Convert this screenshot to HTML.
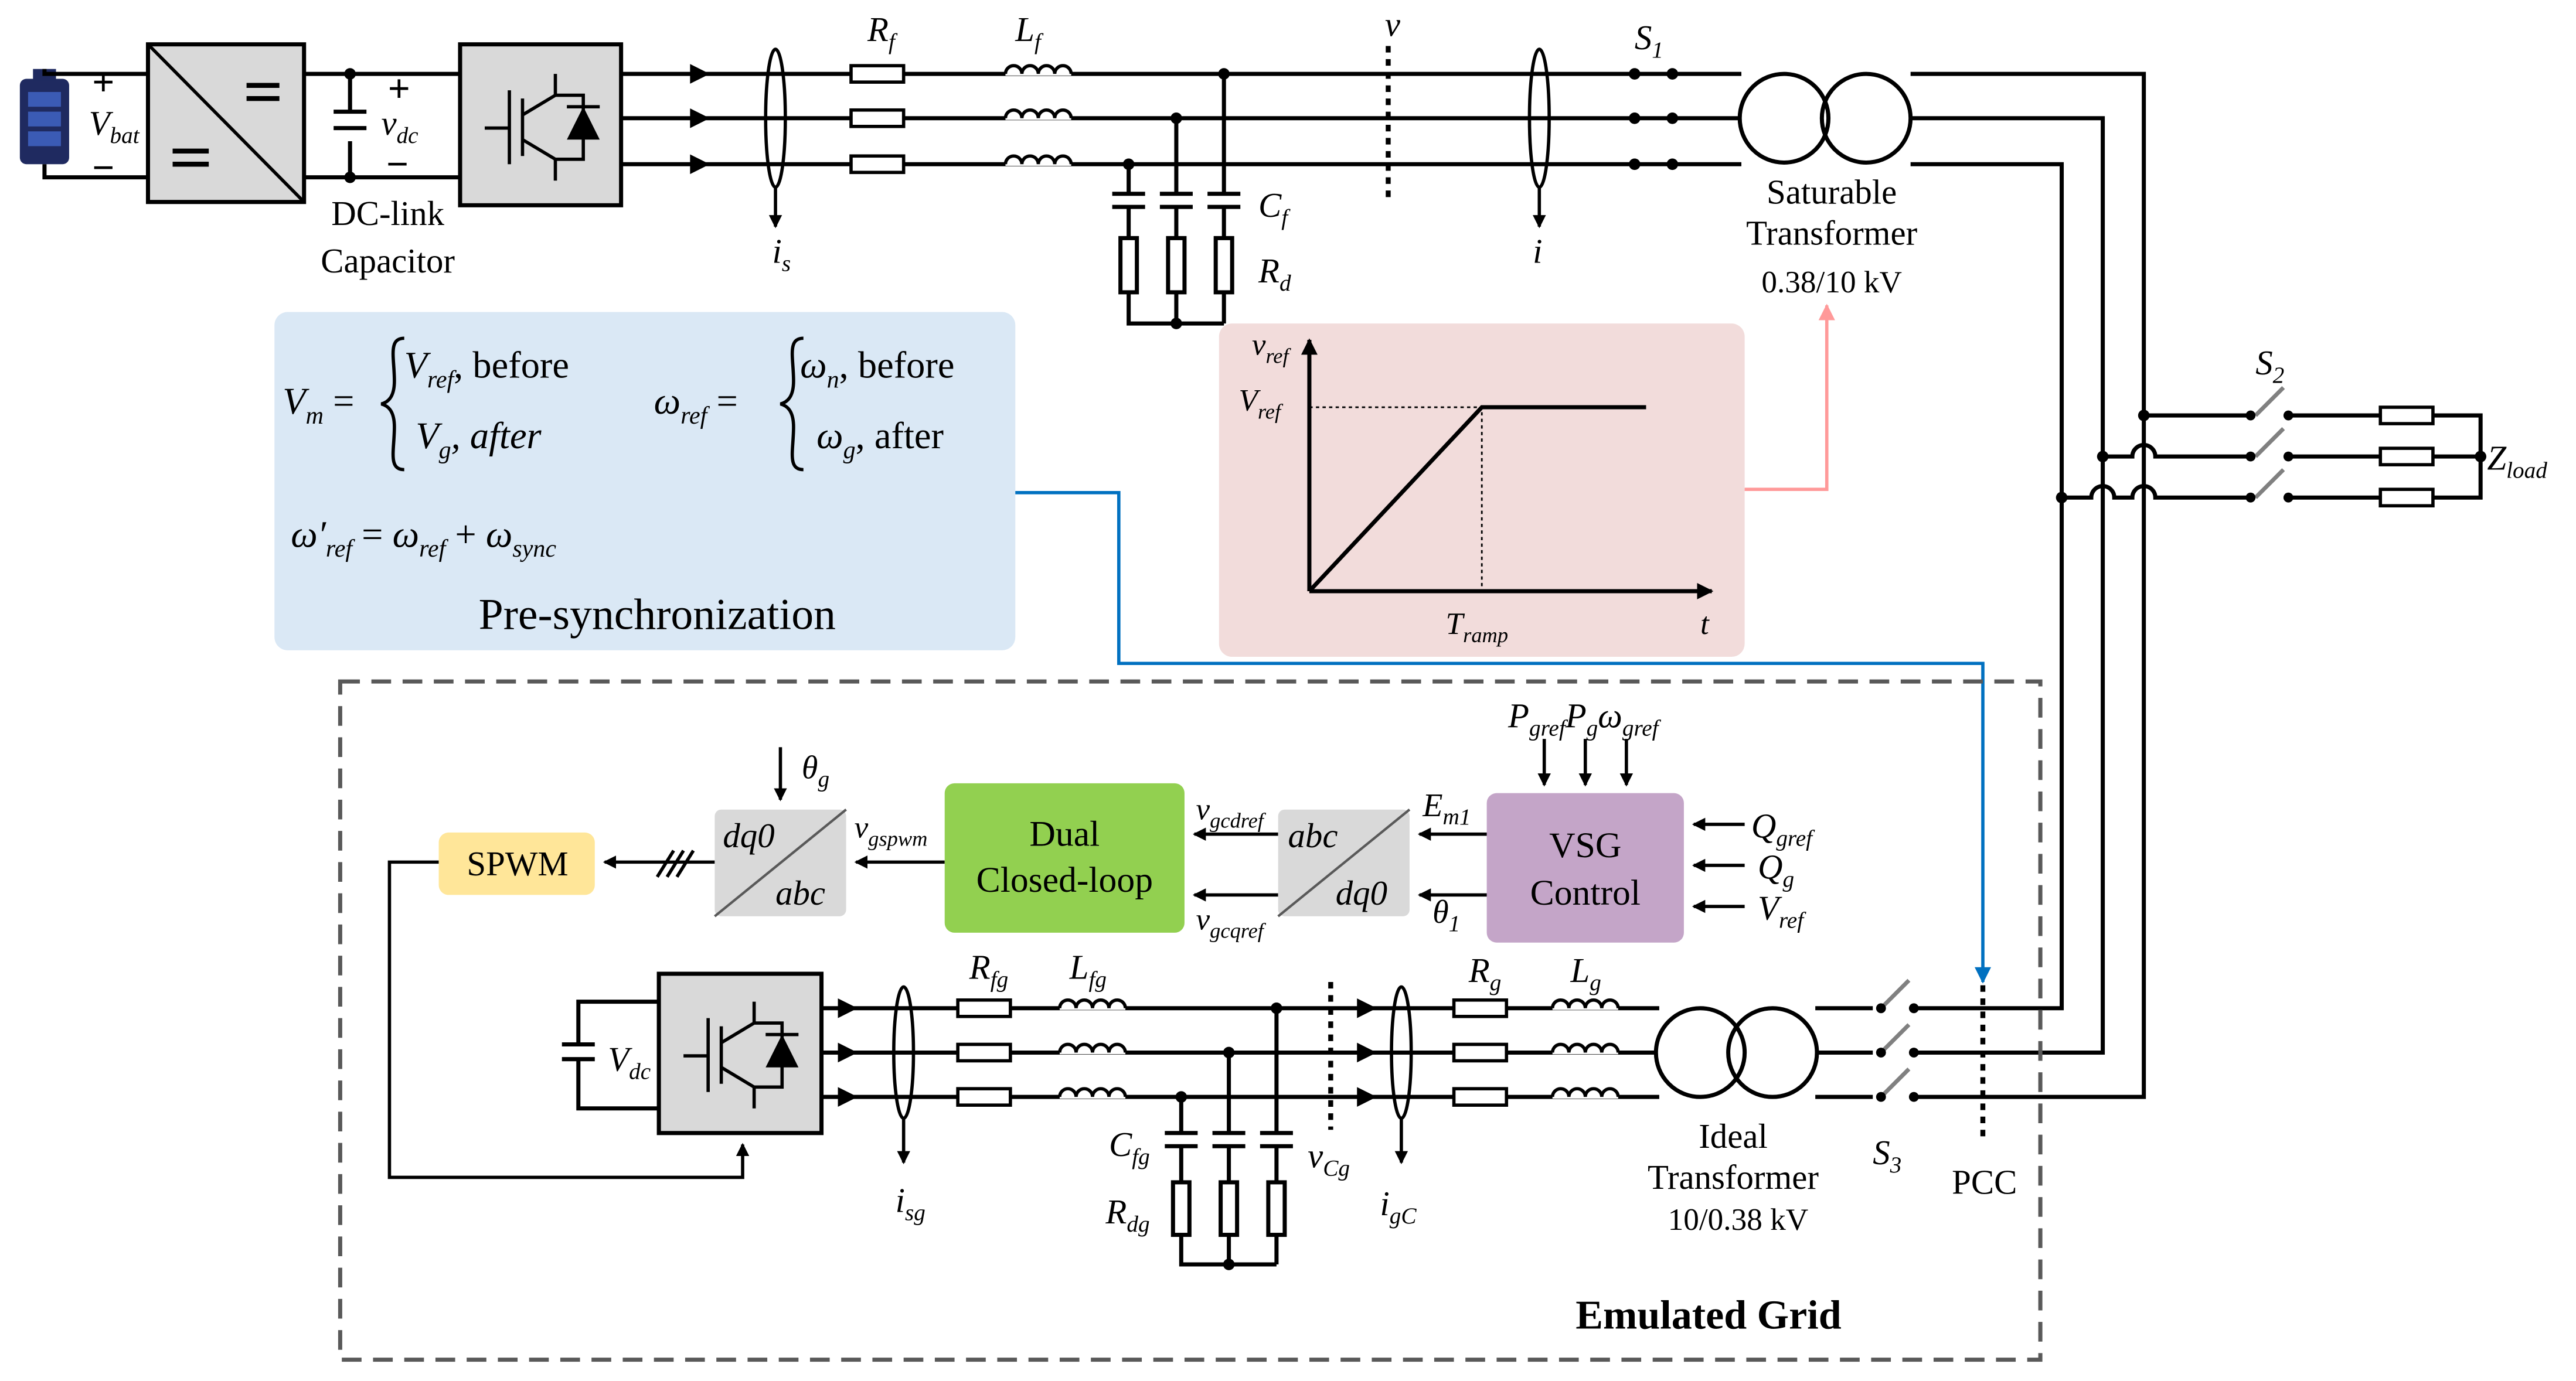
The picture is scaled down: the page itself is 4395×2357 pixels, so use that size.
<!DOCTYPE html>
<html><head><meta charset="utf-8"><style>
html,body{margin:0;padding:0;background:#fff;}
svg{display:block;}
text{font-family:"Liberation Serif","Times New Roman","DejaVu Serif",serif;fill:#000;}
.it{font-style:italic;}
</style></head><body>
<svg width="4395" height="2357" viewBox="0 0 1568 841" xmlns="http://www.w3.org/2000/svg">
<defs>
<marker id="ar" markerWidth="8" markerHeight="8" refX="7" refY="4" orient="auto" markerUnits="userSpaceOnUse"><path d="M0,0 L8,4 L0,8 Z" fill="#000"/></marker>
<marker id="arb" markerWidth="10" markerHeight="10" refX="9" refY="5" orient="auto" markerUnits="userSpaceOnUse"><path d="M0,0 L10,5 L0,10 Z" fill="#0070c0"/></marker>
<marker id="arp" markerWidth="10" markerHeight="10" refX="9" refY="5" orient="auto" markerUnits="userSpaceOnUse"><path d="M0,0 L10,5 L0,10 Z" fill="#ff9999"/></marker>
<marker id="arg" markerWidth="10" markerHeight="10" refX="9" refY="5" orient="auto" markerUnits="userSpaceOnUse"><path d="M0,0 L10,5 L0,10 Z" fill="#000"/></marker>
<g id="coil"><path d="M0,0 a5,5 0 0 1 10,0 a5,5 0 0 1 10,0 a5,5 0 0 1 10,0 a5,5 0 0 1 10,0" fill="none" stroke="#000" stroke-width="2"/></g>
<g id="res"><rect x="0" y="-5" width="32" height="10" fill="#fff" stroke="#000" stroke-width="2"/></g>
</defs>

<!-- battery -->
<rect x="12" y="48" width="30" height="52" rx="4" fill="#1f2a60"/>
<rect x="20" y="42" width="14" height="7" fill="#1f2a60"/>
<rect x="17" y="56" width="20" height="9" fill="#3b5bb5"/><rect x="17" y="68" width="20" height="9" fill="#3b5bb5"/><rect x="17" y="80" width="20" height="9" fill="#3b5bb5"/>
<g stroke="#000" stroke-width="2.5" fill="none">
<path d="M27,42 V45 H90"/><path d="M27,100 V108 H90"/>
<path d="M185,45 H280 M185,108 H280"/>
<path d="M213,45 V68 M213,86 V108 M203,68 H223 M203,78 H223"/>
</g>
<circle cx="213" cy="45" r="3.5"/><circle cx="213" cy="108" r="3.5"/>
<text x="56" y="58" font-size="24" font-weight="bold">+</text>
<text x="54" y="82" font-size="21" class="it">V<tspan font-size="14" dy="5">bat</tspan></text>
<text x="56" y="110" font-size="24" font-weight="bold">−</text>
<rect x="90" y="27" width="95" height="96" fill="#d9d9d9" stroke="#000" stroke-width="2.5"/>
<path d="M90,27 L185,123" stroke="#000" stroke-width="2"/>
<path d="M150,52 H170 M150,60 H170 M105,92 H127 M105,100 H127" stroke="#000" stroke-width="3"/>
<text x="236" y="62" font-size="24" font-weight="bold">+</text>
<text x="232" y="82" font-size="21" class="it">v<tspan font-size="14" dy="5">dc</tspan></text>
<text x="235" y="108" font-size="24" font-weight="bold">−</text>
<text x="236" y="137" font-size="21" text-anchor="middle">DC-link</text>
<text x="236" y="166" font-size="21" text-anchor="middle">Capacitor</text>
<!-- inverter top -->
<rect x="280" y="27" width="98" height="98" fill="#d9d9d9" stroke="#000" stroke-width="2.5"/>
<g stroke="#000" stroke-width="2" fill="none"><path d="M310,55 V100 M318,60 V95 M318,70 L338,58 V45 M318,85 L338,97 V110 M295,78 H310 M338,58 H355 V97 H338"/></g>
<path d="M345,85 L365,85 L355,65 Z" fill="#000"/><path d="M345,65 H365" stroke="#000" stroke-width="2"/>

<!-- top 3 phase lines -->
<g stroke="#000" stroke-width="2.5" fill="none">
<path d="M378,45 H1060 M378,72 H1060 M378,100 H1060"/>
<path d="M1163,45 H1305 V668 H1105 M1163,72 H1280 V641 H1105 M1163,100 H1255 V614 H1105"/>
</g>
<g fill="#000"><path d="M420,39 L432,45 L420,51Z M420,66 L432,72 L420,78Z M420,94 L432,100 L420,106Z"/></g>
<ellipse cx="472" cy="72" rx="6" ry="42" fill="none" stroke="#000" stroke-width="2"/>
<path d="M472,114 V138" stroke="#000" stroke-width="2" marker-end="url(#ar)"/>
<text x="470" y="160" font-size="21" class="it">i<tspan font-size="14" dy="5">s</tspan></text>
<use href="#res" x="518" y="45"/><use href="#res" x="518" y="72"/><use href="#res" x="518" y="100"/>
<rect x="612" y="38" width="40" height="8" fill="#fff"/><rect x="612" y="65" width="40" height="8" fill="#fff"/><rect x="612" y="93" width="40" height="8" fill="#fff"/>
<use href="#coil" x="612" y="45"/><use href="#coil" x="612" y="72"/><use href="#coil" x="612" y="100"/>
<text x="528" y="25" font-size="21" class="it">R<tspan font-size="14" dy="5">f</tspan></text>
<text x="618" y="25" font-size="21" class="it">L<tspan font-size="14" dy="5">f</tspan></text>
<!-- filter caps -->
<g stroke="#000" stroke-width="2.5" fill="none">
<path d="M687,100 V118 M677,118 H697 M677,126 H697 M687,126 V145 M687,178 V197 H745 M716,72 V118 M706,118 H726 M706,126 H726 M716,126 V145 M716,178 V197 M745,45 V118 M735,118 H755 M735,126 H755 M745,126 V145 M745,178 V197"/>
<rect x="682" y="145" width="10" height="33" fill="#fff"/><rect x="711" y="145" width="10" height="33" fill="#fff"/><rect x="740" y="145" width="10" height="33" fill="#fff"/>
</g>
<circle cx="687" cy="100" r="3.5"/><circle cx="716" cy="72" r="3.5"/><circle cx="745" cy="45" r="3.5"/><circle cx="716" cy="197" r="3.5"/>
<text x="766" y="132" font-size="21" class="it">C<tspan font-size="14" dy="5">f</tspan></text>
<text x="766" y="172" font-size="21" class="it">R<tspan font-size="14" dy="5">d</tspan></text>
<path d="M845,28 V120" stroke="#000" stroke-width="3" stroke-dasharray="4,4"/>
<text x="843" y="22" font-size="21" class="it">v</text>
<ellipse cx="937" cy="72" rx="6" ry="42" fill="none" stroke="#000" stroke-width="2"/>
<path d="M937,114 V138" stroke="#000" stroke-width="2" marker-end="url(#ar)"/>
<text x="933" y="160" font-size="21" class="it">i</text>
<!-- S1 -->
<rect x="995" y="38" width="23" height="70" fill="#fff"/>
<g fill="#000"><circle cx="995" cy="45" r="3.5"/><circle cx="1018" cy="45" r="3.5"/><circle cx="995" cy="72" r="3.5"/><circle cx="1018" cy="72" r="3.5"/><circle cx="995" cy="100" r="3.5"/><circle cx="1018" cy="100" r="3.5"/></g>
<path d="M995,45 H1018 M995,72 H1018 M995,100 H1018" stroke="#000" stroke-width="2.5"/>
<text x="995" y="30" font-size="21" class="it">S<tspan font-size="14" dy="5">1</tspan></text>
<circle cx="1086" cy="72" r="27" fill="#fff" stroke="#000" stroke-width="2.5"/>
<circle cx="1136" cy="72" r="27" fill="none" stroke="#000" stroke-width="2.5"/>
<text x="1115" y="124" font-size="21" text-anchor="middle">Saturable</text>
<text x="1115" y="149" font-size="21" text-anchor="middle">Transformer</text>
<text x="1115" y="178" font-size="19" text-anchor="middle">0.38/10 kV</text>

<!-- load branch -->
<g stroke="#000" stroke-width="2.5" fill="none">
<path d="M1305,253 H1370 M1393,253 H1510 V303 H1480"/>
<path d="M1280,278 H1298 a7,7 0 0 1 14,0 H1370 M1393,278 H1510"/>
<path d="M1255,303 H1273 a7,7 0 0 1 14,0 H1298 a7,7 0 0 1 14,0 H1370 M1393,303 H1480"/>
</g>
<g stroke="#808080" stroke-width="2.5"><path d="M1373,253 L1390,236 M1373,278 L1390,261 M1373,303 L1390,286"/></g>
<g fill="#000"><circle cx="1305" cy="253" r="3.5"/><circle cx="1280" cy="278" r="3.5"/><circle cx="1255" cy="303" r="3.5"/><circle cx="1370" cy="253" r="3"/><circle cx="1393" cy="253" r="3"/><circle cx="1370" cy="278" r="3"/><circle cx="1393" cy="278" r="3"/><circle cx="1370" cy="303" r="3"/><circle cx="1393" cy="303" r="3"/><circle cx="1510" cy="278" r="3.5"/></g>
<use href="#res" x="1449" y="253"/><use href="#res" x="1449" y="278"/><use href="#res" x="1449" y="303"/>
<text x="1373" y="228" font-size="21" class="it">S<tspan font-size="14" dy="5">2</tspan></text>
<text x="1514" y="286" font-size="21" class="it">Z<tspan font-size="14" dy="5">load</tspan></text>

<!-- blue box -->
<rect x="167" y="190" width="451" height="206" rx="8" fill="#dae8f5"/>
<text x="172" y="252" font-size="23" class="it">V<tspan font-size="15" dy="6">m</tspan><tspan dy="-6" font-style="normal"> =</tspan></text>
<path d="M246,206 C236,206 240,218 240,232 C240,242 236,245 232,246 C236,247 240,250 240,260 C240,274 236,286 246,286" fill="none" stroke="#000" stroke-width="2"/>
<text x="246" y="230" font-size="23" class="it">V<tspan font-size="15" dy="6">ref</tspan><tspan dy="-6" font-style="normal">, before</tspan></text>
<text x="253" y="273" font-size="23" class="it">V<tspan font-size="15" dy="6">g</tspan><tspan dy="-6">, after</tspan></text>
<text x="398" y="252" font-size="23" class="it">ω<tspan font-size="15" dy="6">ref</tspan><tspan dy="-6" font-style="normal"> =</tspan></text>
<path d="M489,206 C479,206 483,218 483,232 C483,242 479,245 475,246 C479,247 483,250 483,260 C483,274 479,286 489,286" fill="none" stroke="#000" stroke-width="2"/>
<text x="487" y="230" font-size="23" class="it">ω<tspan font-size="15" dy="6">n</tspan><tspan dy="-6" font-style="normal">, before</tspan></text>
<text x="497" y="273" font-size="23" class="it">ω<tspan font-size="15" dy="6">g</tspan><tspan dy="-6" font-style="normal">, after</tspan></text>
<text x="177" y="333" font-size="23" class="it">ω′<tspan font-size="15" dy="6">ref</tspan><tspan dy="-6" font-style="normal"> = </tspan>ω<tspan font-size="15" dy="6">ref</tspan><tspan dy="-6" font-style="normal"> + </tspan>ω<tspan font-size="15" dy="6">sync</tspan></text>
<text x="400" y="383" font-size="27" text-anchor="middle">Pre-synchronization</text>
<path d="M618,300 H681 V404 H1207 V598" fill="none" stroke="#0070c0" stroke-width="2" marker-end="url(#arb)"/>

<!-- pink box -->
<rect x="742" y="197" width="320" height="203" rx="8" fill="#f2dcdb"/>
<path d="M797,360 V207" stroke="#000" stroke-width="2.5" marker-end="url(#arg)"/>
<path d="M797,360 H1042" stroke="#000" stroke-width="2.5" marker-end="url(#arg)"/>
<path d="M797,360 L902,248 H1002" stroke="#000" stroke-width="2.5" fill="none"/>
<path d="M797,248 H902 V360" stroke="#000" stroke-width="1" stroke-dasharray="2,2" fill="none"/>
<text x="762" y="216" font-size="19" class="it">v<tspan font-size="13" dy="5">ref</tspan></text>
<text x="754" y="250" font-size="19" class="it">V<tspan font-size="13" dy="5">ref</tspan></text>
<text x="880" y="386" font-size="19" class="it">T<tspan font-size="13" dy="5">ramp</tspan></text>
<text x="1035" y="386" font-size="19" class="it">t</text>
<path d="M1062,298 H1112 V186" fill="none" stroke="#ff9999" stroke-width="2" marker-end="url(#arp)"/>

<!-- emulated grid -->
<rect x="207" y="415" width="1035" height="413" fill="none" stroke="#595959" stroke-width="2.5" stroke-dasharray="12,7"/>
<text x="1040" y="809" font-size="25" font-weight="bold" text-anchor="middle">Emulated Grid</text>

<rect x="905" y="483" width="120" height="91" rx="6" fill="#c4a5c8"/>
<text x="965" y="522" font-size="22" text-anchor="middle">VSG</text>
<text x="965" y="551" font-size="22" text-anchor="middle">Control</text>
<g stroke="#000" stroke-width="2" fill="none">
<path d="M940,450 V478" marker-end="url(#ar)"/><path d="M965,450 V478" marker-end="url(#ar)"/><path d="M990,450 V478" marker-end="url(#ar)"/>
<path d="M1062,502 H1031" marker-end="url(#ar)"/><path d="M1062,527 H1031" marker-end="url(#ar)"/><path d="M1062,552 H1031" marker-end="url(#ar)"/>
<path d="M905,508 H864" marker-end="url(#ar)"/><path d="M905,545 H864" marker-end="url(#ar)"/>
<path d="M778,508 H727" marker-end="url(#ar)"/><path d="M778,545 H727" marker-end="url(#ar)"/>
<path d="M575,525 H521" marker-end="url(#ar)"/>
<path d="M435,525 H368" marker-end="url(#ar)"/>
<path d="M475,455 V487" marker-end="url(#ar)"/>
<path d="M267,525 H237 V717 H452 V697" marker-end="url(#ar)"/>
</g>
<path d="M400,534 L410,518 M406,534 L416,518 M412,534 L422,518" stroke="#000" stroke-width="2"/>
<text x="918" y="443" font-size="21" class="it">P<tspan font-size="14" dy="5">gref</tspan><tspan dy="-5">P</tspan><tspan font-size="14" dy="5">g</tspan><tspan dy="-5">ω</tspan><tspan font-size="14" dy="5">gref</tspan></text>
<text x="1066" y="510" font-size="21" class="it">Q<tspan font-size="14" dy="5">gref</tspan></text>
<text x="1070" y="535" font-size="21" class="it">Q<tspan font-size="14" dy="5">g</tspan></text>
<text x="1070" y="560" font-size="21" class="it">V<tspan font-size="14" dy="5">ref</tspan></text>
<text x="866" y="497" font-size="20" class="it">E<tspan font-size="14" dy="5">m1</tspan></text>
<text x="872" y="562" font-size="20" class="it">θ<tspan font-size="14" dy="5">1</tspan></text>
<rect x="778" y="493" width="80" height="65" rx="4" fill="#d9d9d9"/>
<path d="M778,558 L858,493" stroke="#595959" stroke-width="1.5"/>
<text x="784" y="516" font-size="21" class="it">abc</text>
<text x="813" y="551" font-size="21" class="it">dq0</text>
<text x="728" y="499" font-size="19" class="it">v<tspan font-size="13" dy="5">gcdref</tspan></text>
<text x="728" y="566" font-size="19" class="it">v<tspan font-size="13" dy="5">gcqref</tspan></text>
<rect x="575" y="477" width="146" height="91" rx="6" fill="#92d050"/>
<text x="648" y="515" font-size="22" text-anchor="middle">Dual</text>
<text x="648" y="543" font-size="22" text-anchor="middle">Closed-loop</text>
<rect x="435" y="493" width="80" height="65" rx="4" fill="#d9d9d9"/>
<path d="M435,558 L515,493" stroke="#595959" stroke-width="1.5"/>
<text x="440" y="516" font-size="21" class="it">dq0</text>
<text x="472" y="551" font-size="21" class="it">abc</text>
<text x="488" y="474" font-size="20" class="it">θ<tspan font-size="14" dy="5">g</tspan></text>
<text x="520" y="510" font-size="19" class="it">v<tspan font-size="13" dy="5">gspwm</tspan></text>
<rect x="267" y="507" width="95" height="38" rx="6" fill="#ffe699"/>
<text x="315" y="533" font-size="21" text-anchor="middle">SPWM</text>

<!-- bottom inverter -->
<rect x="401" y="593" width="99" height="97" fill="#d9d9d9" stroke="#000" stroke-width="2.5"/>
<g stroke="#000" stroke-width="2" fill="none"><path d="M431,620 V665 M439,625 V660 M439,635 L459,623 V610 M439,650 L459,662 V675 M416,643 H431 M459,623 H476 V662 H459"/></g>
<path d="M466,650 L486,650 L476,630 Z" fill="#000"/><path d="M466,630 H486" stroke="#000" stroke-width="2"/>
<g stroke="#000" stroke-width="2.5" fill="none"><path d="M401,610 H352 V636 M342,636 H362 M342,645 H362 M352,645 V675 H401"/></g>
<text x="370" y="652" font-size="21" class="it">V<tspan font-size="14" dy="5">dc</tspan></text>

<g stroke="#000" stroke-width="2.5" fill="none"><path d="M500,614 H1010 M500,641 H1010 M500,668 H1010"/></g>
<g fill="#000"><path d="M510,608 L522,614 L510,620Z M510,635 L522,641 L510,647Z M510,662 L522,668 L510,674Z"/></g>
<ellipse cx="550" cy="641" rx="6" ry="40" fill="none" stroke="#000" stroke-width="2"/>
<path d="M550,681 V708" stroke="#000" stroke-width="2" marker-end="url(#ar)"/>
<text x="545" y="738" font-size="21" class="it">i<tspan font-size="14" dy="5">sg</tspan></text>
<use href="#res" x="583" y="614"/><use href="#res" x="583" y="641"/><use href="#res" x="583" y="668"/>
<rect x="645" y="607" width="40" height="8" fill="#fff"/><rect x="645" y="634" width="40" height="8" fill="#fff"/><rect x="645" y="661" width="40" height="8" fill="#fff"/>
<use href="#coil" x="645" y="614"/><use href="#coil" x="645" y="641"/><use href="#coil" x="645" y="668"/>
<text x="590" y="596" font-size="21" class="it">R<tspan font-size="14" dy="5">fg</tspan></text>
<text x="651" y="596" font-size="21" class="it">L<tspan font-size="14" dy="5">fg</tspan></text>
<g stroke="#000" stroke-width="2.5" fill="none">
<path d="M719,668 V690 M709,690 H729 M709,698 H729 M719,698 V720 M719,752 V770 H777 M748,641 V690 M738,690 H758 M738,698 H758 M748,698 V720 M748,752 V770 M777,614 V690 M767,690 H787 M767,698 H787 M777,698 V720 M777,752 V770"/>
<rect x="714" y="720" width="10" height="32" fill="#fff"/><rect x="743" y="720" width="10" height="32" fill="#fff"/><rect x="772" y="720" width="10" height="32" fill="#fff"/>
</g>
<circle cx="719" cy="668" r="3.5"/><circle cx="748" cy="641" r="3.5"/><circle cx="777" cy="614" r="3.5"/><circle cx="748" cy="770" r="3.5"/>
<text x="675" y="704" font-size="21" class="it">C<tspan font-size="14" dy="5">fg</tspan></text>
<text x="673" y="745" font-size="21" class="it">R<tspan font-size="14" dy="5">dg</tspan></text>
<path d="M810,598 V688" stroke="#000" stroke-width="3" stroke-dasharray="4,4"/>
<text x="796" y="711" font-size="21" class="it">v<tspan font-size="14" dy="5">Cg</tspan></text>
<g fill="#000"><path d="M826,608 L838,614 L826,620Z M826,635 L838,641 L826,647Z M826,662 L838,668 L826,674Z"/></g>
<ellipse cx="853" cy="641" rx="6" ry="40" fill="none" stroke="#000" stroke-width="2"/>
<path d="M853,681 V708" stroke="#000" stroke-width="2" marker-end="url(#ar)"/>
<text x="840" y="740" font-size="21" class="it">i<tspan font-size="14" dy="5">gC</tspan></text>
<use href="#res" x="885" y="614"/><use href="#res" x="885" y="641"/><use href="#res" x="885" y="668"/>
<rect x="945" y="607" width="40" height="8" fill="#fff"/><rect x="945" y="634" width="40" height="8" fill="#fff"/><rect x="945" y="661" width="40" height="8" fill="#fff"/>
<use href="#coil" x="945" y="614"/><use href="#coil" x="945" y="641"/><use href="#coil" x="945" y="668"/>
<text x="894" y="598" font-size="21" class="it">R<tspan font-size="14" dy="5">g</tspan></text>
<text x="956" y="598" font-size="21" class="it">L<tspan font-size="14" dy="5">g</tspan></text>
<circle cx="1035" cy="641" r="27" fill="#fff" stroke="#000" stroke-width="2.5"/>
<circle cx="1079" cy="641" r="27" fill="none" stroke="#000" stroke-width="2.5"/>
<text x="1055" y="699" font-size="21" text-anchor="middle">Ideal</text>
<text x="1055" y="724" font-size="21" text-anchor="middle">Transformer</text>
<text x="1058" y="749" font-size="19" text-anchor="middle">10/0.38 kV</text>
<!-- S3 -->
<rect x="1140" y="600" width="25" height="75" fill="#fff"/>
<g stroke="#808080" stroke-width="2.5"><path d="M1145,614 L1162,597 M1145,641 L1162,624 M1145,668 L1162,651"/></g>
<g fill="#000"><circle cx="1145" cy="614" r="3"/><circle cx="1145" cy="641" r="3"/><circle cx="1145" cy="668" r="3"/><circle cx="1165" cy="614" r="3"/><circle cx="1165" cy="641" r="3"/><circle cx="1165" cy="668" r="3"/></g>
<text x="1140" y="709" font-size="21" class="it">S<tspan font-size="14" dy="5">3</tspan></text>
<path d="M1207,600 V692" stroke="#000" stroke-width="3" stroke-dasharray="4,4"/>
<text x="1208" y="727" font-size="21" text-anchor="middle">PCC</text>
</svg>
</body></html>
